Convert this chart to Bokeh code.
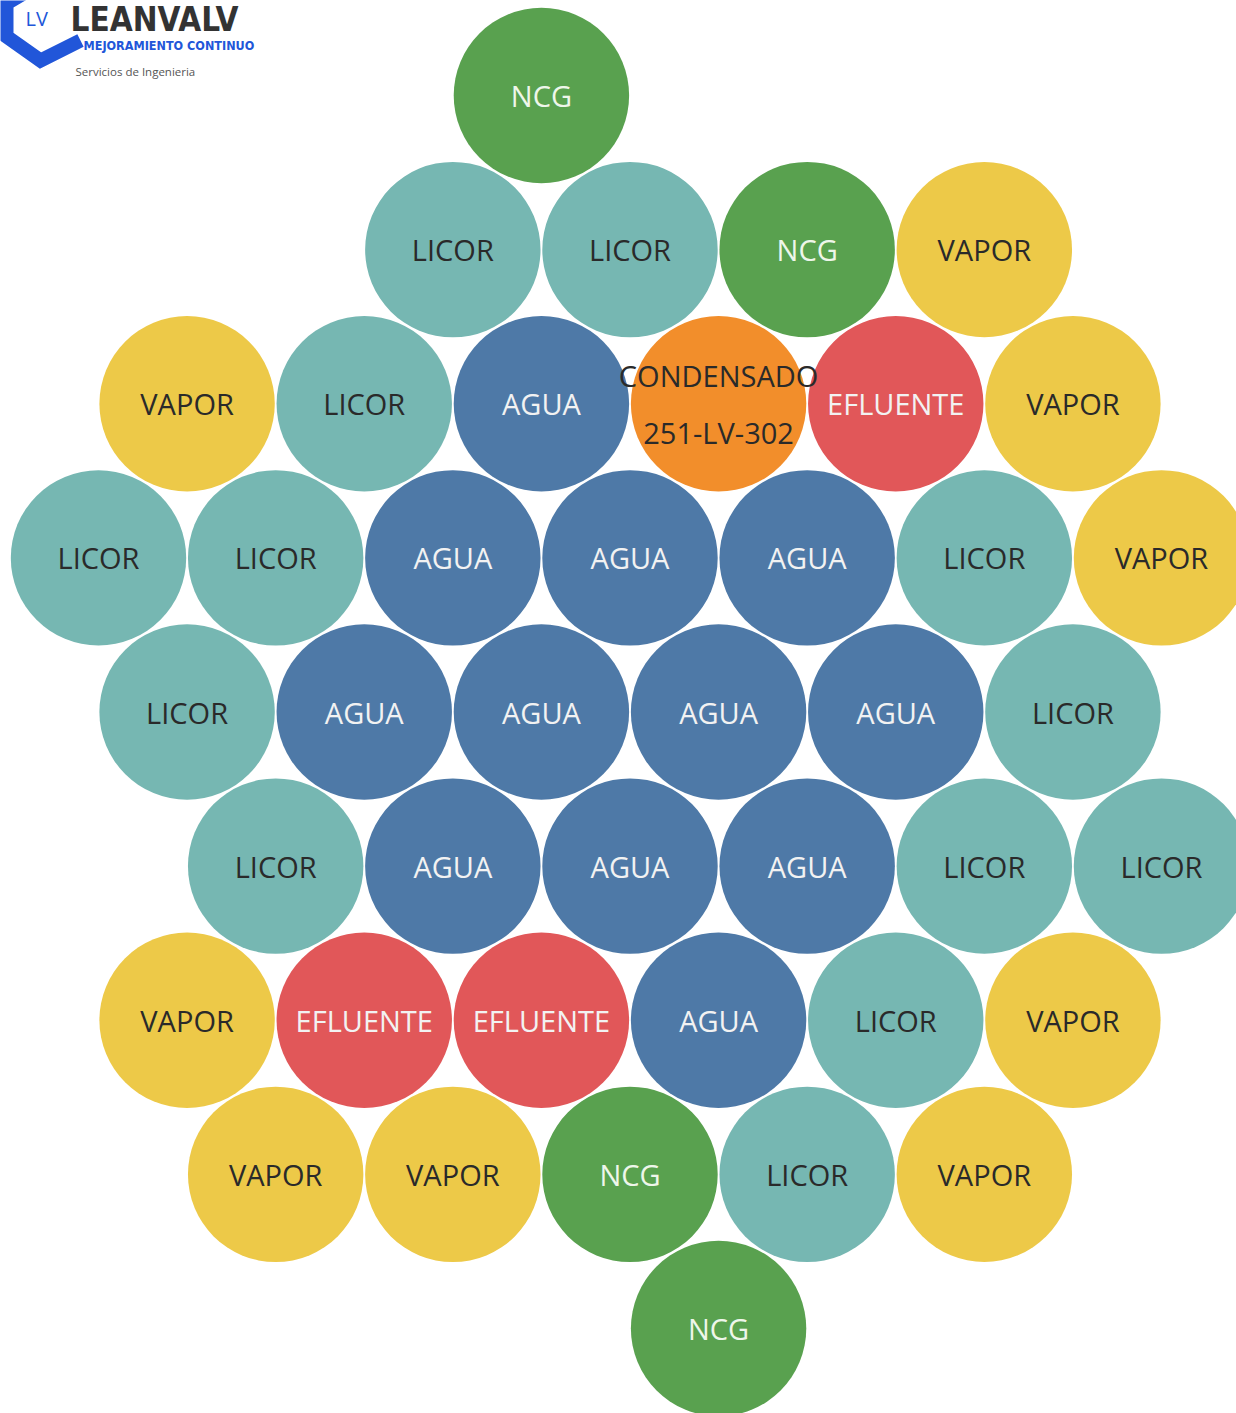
from bokeh.plotting import figure
from bokeh.models import Range1d, ColumnDataSource, Label
from bokeh.core.properties import value
from bokeh.embed import file_html
from bokeh.resources import INLINE

# ---- data: hexagonal grid of circles (row, column in half-step units, label) ----
rows = [0,
        1, 1, 1, 1,
        2, 2, 2, 2, 2, 2,
        3, 3, 3, 3, 3, 3, 3,
        4, 4, 4, 4, 4, 4,
        5, 5, 5, 5, 5, 5,
        6, 6, 6, 6, 6, 6,
        7, 7, 7, 7, 7,
        8]
cols = [5,
        4, 6, 8, 10,
        1, 3, 5, 7, 9, 11,
        0, 2, 4, 6, 8, 10, 12,
        1, 3, 5, 7, 9, 11,
        2, 4, 6, 8, 10, 12,
        1, 3, 5, 7, 9, 11,
        2, 4, 6, 8, 10,
        7]
categories = ["NCG",
              "LICOR", "LICOR", "NCG", "VAPOR",
              "VAPOR", "LICOR", "AGUA", "CONDENSADO", "EFLUENTE", "VAPOR",
              "LICOR", "LICOR", "AGUA", "AGUA", "AGUA", "LICOR", "VAPOR",
              "LICOR", "AGUA", "AGUA", "AGUA", "AGUA", "LICOR",
              "LICOR", "AGUA", "AGUA", "AGUA", "LICOR", "LICOR",
              "VAPOR", "EFLUENTE", "EFLUENTE", "AGUA", "LICOR", "VAPOR",
              "VAPOR", "VAPOR", "NCG", "LICOR", "VAPOR",
              "NCG"]
labels = [("CONDENSADO\n251-LV-302" if c == "CONDENSADO" else c) for c in categories]

fill_colors = {"AGUA": "#4E79A7", "CONDENSADO": "#F28E2B", "EFLUENTE": "#E15759",
               "LICOR": "#76B7B2", "NCG": "#59A14F", "VAPOR": "#EDC948"}
text_colors = {"AGUA": "#f2f2f2", "CONDENSADO": "#2a2a2a", "EFLUENTE": "#f2f2f2",
               "LICOR": "#2a2a2a", "NCG": "#eef6ea", "VAPOR": "#2a2a2a"}

src = ColumnDataSource(dict(
    x=cols, y=rows, label=labels,
    fill=[fill_colors[c] for c in categories],
    tcol=[text_colors[c] for c in categories],
))

# ---- geometry of the page (image pixels) ----
W, H = 1236, 1413
DX = (1161 - 98) / 12.0   # pixels per column unit
DY = (1328 - 95) / 8.0    # pixels per row unit

def xd(px):  # image x -> data
    return (px - 98) / DX

def yd(py):  # image y -> data
    return (py - 95) / DY

p = figure(width=W, height=H, output_backend="svg", toolbar_location=None,
           x_range=Range1d(xd(0), xd(W)), y_range=Range1d(yd(H), yd(0)),
           min_border=0, outline_line_color=None)
p.axis.visible = False
p.grid.visible = False
p.background_fill_color = "white"
p.border_fill_color = "white"

p.circle(x="x", y="y", radius=0.99, radius_dimension="x", source=src,
         fill_color="fill", line_color=None)
p.text(x="x", y="y", text="label", source=src, text_color="tcol",
       text_align="center", text_baseline="middle", text_font=value("Open Sans"),
       text_font_size="29px", text_line_height=1.45)

# ---- logo (top-left) ----
p.line(x=[xd(45), xd(6), xd(6), xd(40), xd(80)],
       y=[yd(-20), yd(3), yd(36), yd(60), yd(40)],
       line_width=14, line_color="#2156d9", line_join="miter")
p.add_layout(Label(x=xd(25), y=yd(18), text="LV", text_color="#2156d9",
                   text_font="Open Sans", text_font_size="20px",
                   text_baseline="middle", text_align="left"))
p.add_layout(Label(x=xd(70), y=yd(19), text="LEANVALV", text_color="#333333",
                   text_font="DejaVu Sans Condensed", text_font_style="bold",
                   text_font_size="33px", text_baseline="middle", text_align="left"))
p.add_layout(Label(x=xd(83), y=yd(45), text="MEJORAMIENTO CONTINUO", text_color="#2156d9",
                   text_font="DejaVu Sans Condensed", text_font_style="bold",
                   text_font_size="12.5px", text_baseline="middle", text_align="left"))
p.add_layout(Label(x=xd(75), y=yd(71), text="Servicios de Ingenieria", text_color="#555555",
                   text_font="Open Sans", text_font_size="11.5px",
                   text_baseline="middle", text_align="left"))

open("out.html", "w").write(file_html(p, INLINE))
